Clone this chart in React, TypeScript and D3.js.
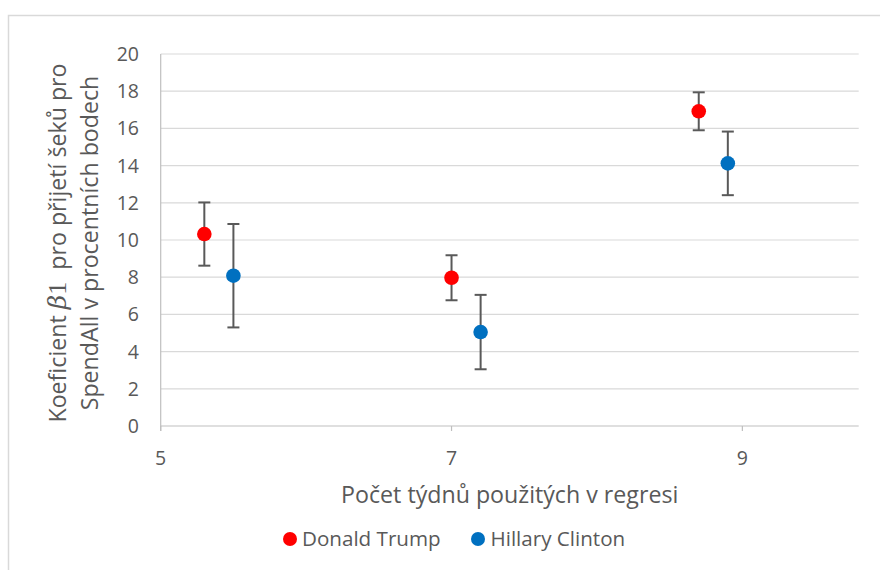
import React from "react";
import * as d3 from "d3";

// Regression coefficients (percentage points) by number of weeks used
const seriesNames = ["Donald Trump", "Hillary Clinton"];
const seriesColors = ["#ff0000", "#0070c0"];
const trumpWeeks = [5.3, 7.0, 8.7];
const trumpCoef = [10.32, 7.97, 16.92];
const trumpErr = [1.7, 1.21, 1.02];
const clintonWeeks = [5.5, 7.2, 8.9];
const clintonCoef = [8.08, 5.05, 14.12];
const clintonErr = [2.78, 2.0, 1.71];
const xTicks = [5, 7, 9];
const yTicks = [0, 2, 4, 6, 8, 10, 12, 14, 16, 18, 20];

const W = 880;
const H = 570;
const FONT = "'Open Sans', sans-serif";
const TEXT = "#595959";

export default function App() {
  const x = d3.scaleLinear().domain([5, 9.8]).range([160.7, 858.7]);
  const y = d3.scaleLinear().domain([0, 20]).range([426, 54]);

  const series = [
    { name: seriesNames[0], color: seriesColors[0], xs: trumpWeeks, ys: trumpCoef, es: trumpErr },
    { name: seriesNames[1], color: seriesColors[1], xs: clintonWeeks, ys: clintonCoef, es: clintonErr },
  ];
  const [x0, x1] = x.range();
  const capHalf = 6;

  return (
    <svg
      width={W}
      height={H}
      style={{ position: "absolute", left: 0, top: 0, background: "#fff" }}
      fontFamily={FONT}
    >
      <rect x={0} y={0} width={W} height={H} fill="#fff" />
      {/* chart frame */}
      <path d={`M8.5,${H} V15.5 H${W}`} fill="none" stroke="#d9d9d9" strokeWidth={1.5} />

      {/* horizontal gridlines */}
      {yTicks.filter((t) => t > 0).map((t) => (
        <line key={t} x1={x0} x2={x1} y1={y(t)} y2={y(t)} stroke="#d9d9d9" strokeWidth={1.2} />
      ))}
      {/* axes */}
      <line x1={x0} x2={x1} y1={y(0)} y2={y(0)} stroke="#bfbfbf" strokeWidth={1.2} />
      <line x1={x0} x2={x0} y1={y(20)} y2={y(0) + 5} stroke="#bfbfbf" strokeWidth={1.2} />
      {xTicks.map((t) => (
        <line key={t} x1={x(t)} x2={x(t)} y1={y(0)} y2={y(0) + 5} stroke="#bfbfbf" strokeWidth={1.2} />
      ))}

      {/* tick labels */}
      {yTicks.map((t) => (
        <text key={t} x={139} y={y(t)} dy="0.36em" textAnchor="end" fontSize={19.5} fill={TEXT}>
          {t}
        </text>
      ))}
      {xTicks.map((t) => (
        <text key={t} x={x(t)} y={465} textAnchor="middle" fontSize={19.5} fill={TEXT}>
          {t}
        </text>
      ))}

      {/* axis titles */}
      <text x={(x0 + x1) / 2} y={503} textAnchor="middle" fontSize={23.2} fill={TEXT}>
        Počet týdnů použitých v regresi
      </text>
      <g transform={`translate(58,243) rotate(-90)`}>
        <text x={0} y={0} dy="0.36em" textAnchor="middle" fontSize={23.2} fill={TEXT} style={{ whiteSpace: "pre" }}>
          {"Koeficient "}
          <tspan fontFamily="'DejaVu Serif', serif" fontStyle="italic" fontSize={25}>β</tspan>
          <tspan fontFamily="'Liberation Serif', serif" fontSize={26}>1</tspan>
          {"  pro přijetí šeků pro"}
        </text>
      </g>
      <g transform={`translate(90,243) rotate(-90)`}>
        <text x={0} y={0} dy="0.36em" textAnchor="middle" fontSize={23.2} fill={TEXT}>
          SpendAll v procentních bodech
        </text>
      </g>

      {/* error bars */}
      {series.map((s) =>
        s.xs.map((wx, i) => {
          const cx = x(wx);
          const top = y(s.ys[i] + s.es[i]);
          const bot = y(s.ys[i] - s.es[i]);
          return (
            <g key={`${s.name}-e-${i}`} stroke="#595959" strokeWidth={2}>
              <line x1={cx} x2={cx} y1={top} y2={bot} />
              <line x1={cx - capHalf} x2={cx + capHalf} y1={top} y2={top} />
              <line x1={cx - capHalf} x2={cx + capHalf} y1={bot} y2={bot} />
            </g>
          );
        })
      )}
      {/* markers */}
      {series.map((s) =>
        s.xs.map((wx, i) => (
          <circle key={`${s.name}-m-${i}`} cx={x(wx)} cy={y(s.ys[i])} r={7.3} fill={s.color} />
        ))
      )}

      {/* legend */}
      <circle cx={290} cy={539} r={7} fill={seriesColors[0]} />
      <text x={302} y={539} dy="0.36em" fontSize={20.6} fill={TEXT}>
        {seriesNames[0]}
      </text>
      <circle cx={478} cy={539} r={7} fill={seriesColors[1]} />
      <text x={490.5} y={539} dy="0.36em" fontSize={20.6} fill={TEXT}>
        {seriesNames[1]}
      </text>
    </svg>
  );
}
